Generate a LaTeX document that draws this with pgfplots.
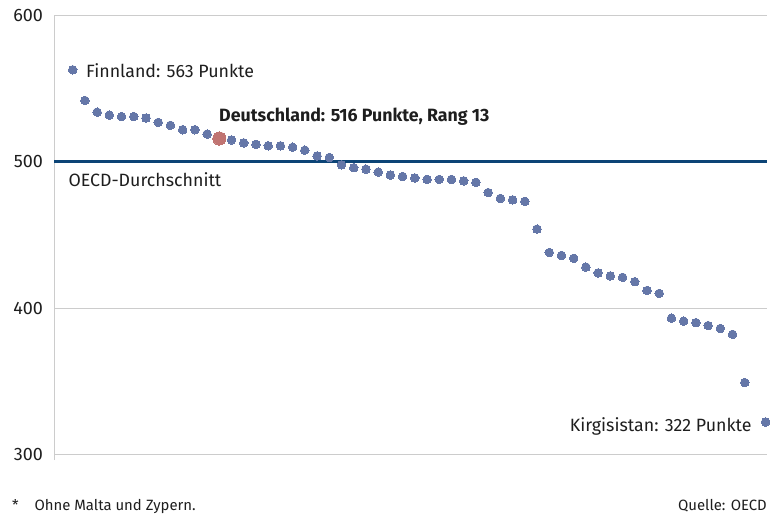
\documentclass[border=0pt]{standalone}
\usepackage{fontspec}
\setmainfont{Fira Sans}
\usepackage{pgfplots}
\pgfplotsset{compat=1.18}
\definecolor{dotc}{HTML}{6577A8}
\definecolor{dec}{HTML}{C07472}
\definecolor{oecd}{HTML}{0C4476}
\definecolor{gridc}{HTML}{CCCCCC}
\definecolor{txt}{HTML}{1E1E1E}
\pgfplotstableread{
x y
1 563
2 542
3 534
4 532
5 531
6 531
7 530
8 527
9 525
10 522
11 522
12 519
14 515
15 513
16 512
17 511
18 511
19 510
20 508
21 504
22 503
23 498
24 496
25 495
26 493
27 491
28 490
29 489
30 488
31 488
32 488
33 487
34 486
35 479
36 475
37 474
38 473
39 454
40 438
41 436
42 434
43 428
44 424
45 422
46 421
47 418
48 412
49 410
50 393
51 391
52 390
53 388
54 386
55 382
56 349
57.7 322
}\pisa
\begin{document}
\begin{tikzpicture}
\begin{axis}[scale only axis,
  width=713pt, height=444.3pt,
  xmin=-0.53, xmax=57.82, ymin=296, ymax=600,
  xtick=\empty, ytick={300,400,500,600},
  ymajorgrids, grid style={gridc, line width=1pt},
  axis x line=none, axis y line*=left,
  y axis line style={gridc, line width=1pt, -},
  major tick length=0pt,
  yticklabel style={font=\fontsize{18}{21}\selectfont, text=txt, xshift=-7.5pt},
  /pgf/number format/assume math mode=true,
  clip=false]
\addplot[oecd, line width=3pt, forget plot] coordinates {(-0.53,500) (57.82,500)};
\addplot[dotc, only marks, mark=*, mark size=4.3pt, mark options={draw=dotc, fill=dotc, line width=0pt}] table[x=x,y=y] {\pisa};
\addplot[dec, only marks, mark=*, mark size=6.6pt, mark options={draw=dec, fill=dec, line width=0pt}] coordinates {(13,516)};
\path (rel axis cs:-0.07574,1.03534) rectangle (rel axis cs:1.015428,-0.15080);
\begin{scope}[every node/.style={inner sep=0pt, text=txt, font=\fontsize{17.8}{21}\selectfont}]
\node[anchor=base west] at (rel axis cs:0.04488,0.86135) {Finnland: 563 Punkte};
\node[anchor=base west, font=\fontsize{17.8}{21}\selectfont\bfseries] at (rel axis cs:0.23142,0.76142) {Deutschland: 516 Punkte, Rang 13};
\node[anchor=base west] at (rel axis cs:0.02006,0.61513) {OECD-Durchschnitt};
\node[anchor=base east] at (rel axis cs:0.97854,0.06370) {Kirgisistan: 322 Punkte};
\node[anchor=base west, font=\fontsize{14.9}{17}\selectfont] at (rel axis cs:-0.05891,-0.11254) {*};
\node[anchor=base west, font=\fontsize{14.9}{17}\selectfont] at (rel axis cs:-0.02763,-0.11254) {Ohne Malta und Zypern.};
\node[anchor=base east, font=\fontsize{14.9}{17}\selectfont] at (rel axis cs:1.0,-0.11254) {Quelle: OECD};
\end{scope}
\end{axis}
\end{tikzpicture}
\end{document}
